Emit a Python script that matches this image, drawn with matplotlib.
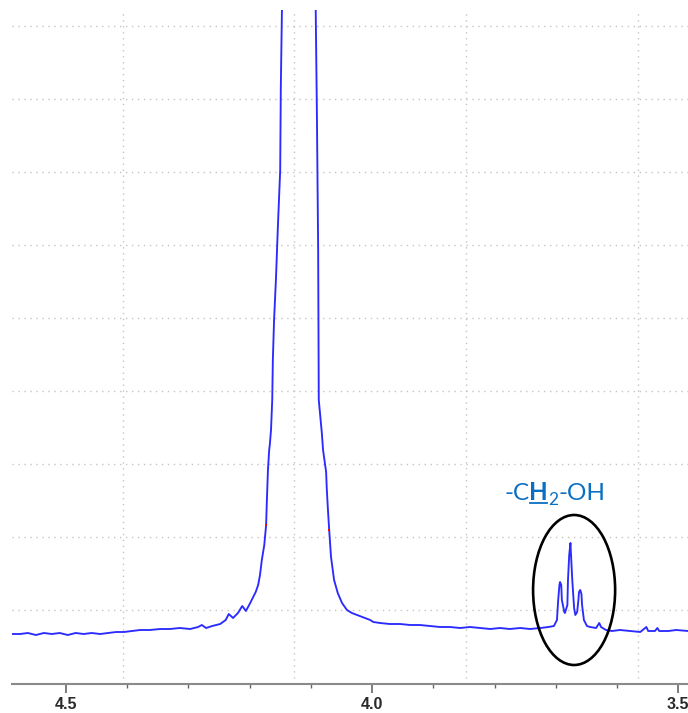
import matplotlib.pyplot as plt
from matplotlib.patches import Ellipse
from matplotlib.ticker import MultipleLocator
from matplotlib.transforms import IdentityTransform
from matplotlib.lines import Line2D

# 1H NMR trace: chemical shift (ppm) and intensity (a.u.)
ppm = [4.588, 4.575, 4.562, 4.549, 4.536, 4.523, 4.510, 4.497, 4.484, 4.471,
       4.458, 4.444, 4.431, 4.418, 4.405, 4.392, 4.379, 4.363, 4.346, 4.330,
       4.314, 4.297, 4.284, 4.278, 4.271, 4.261, 4.248, 4.239, 4.234, 4.227,
       4.219, 4.212, 4.206, 4.199, 4.194, 4.190, 4.186, 4.183, 4.180, 4.176,
       4.173, 4.172, 4.170, 4.168, 4.167, 4.165, 4.163, 4.162, 4.160, 4.157,
       4.154, 4.152, 4.150, 4.149, 4.147, 4.121, 4.092, 4.090, 4.088, 4.087,
       4.082, 4.080, 4.075, 4.074, 4.072, 4.070, 4.067, 4.062, 4.056, 4.049,
       4.041, 4.033, 4.016, 4.003, 3.998, 3.987, 3.971, 3.954, 3.938, 3.922,
       3.905, 3.889, 3.873, 3.856, 3.840, 3.824, 3.807, 3.791, 3.775, 3.758,
       3.742, 3.725, 3.712, 3.703, 3.698, 3.696, 3.694, 3.693, 3.691, 3.690,
       3.686, 3.685, 3.681, 3.680, 3.678, 3.676, 3.675, 3.673, 3.670, 3.668,
       3.665, 3.663, 3.662, 3.660, 3.658, 3.657, 3.654, 3.649, 3.644, 3.634,
       3.629, 3.626, 3.618, 3.608, 3.595, 3.578, 3.562, 3.552, 3.549, 3.538,
       3.534, 3.531, 3.516, 3.503, 3.484]
intensity = [0, 0, 1, -1, 1, 0, 1, -1, 1, 0,
             1, 0, 1, 2, 2, 3, 4, 4, 5, 5,
             6, 5, 7, 9, 6, 8, 10, 14, 20, 16,
             21, 28, 23, 31, 37, 42, 49, 59, 74, 89,
             109, 129, 164, 184, 189, 204, 234, 274, 314, 354,
             404, 434, 464, 546, 624, 3400, 624, 517, 384, 234,
             201, 184, 162, 146, 124, 104, 77, 54, 41, 31,
             24, 21, 17, 14, 12, 11, 10, 10, 9, 9,
             8, 7, 7, 6, 7, 6, 5, 6, 5, 6,
             5, 6, 7, 8, 14, 34, 49, 52, 49, 34,
             22, 21, 29, 54, 79, 91, 79, 54, 26, 19,
             22, 34, 42, 44, 40, 29, 14, 8, 7, 6,
             11, 7, 4, 3, 4, 3, 2, 7, 3, 3,
             6, 3, 3, 4, 3]

# integration limit markers
limit_ppm = [4.173, 4.070]
limit_int = [109, 104]

# dotted grid positions
grid_ppm = [4.407, 4.127, 3.846, 3.565]
grid_int = [24, 97, 170, 243, 316, 389, 462, 535, 608]

major_ticks = [4.5, 4.0, 3.5]
tick_labels = ["4.5", "4.0", "3.5"]

# CH2-OH triplet
triplet_ppm = 3.670
triplet_int = 44

label_color = "#0a6fc2"

fig = plt.figure(figsize=(6.88, 7.13), dpi=100)
ax = fig.add_axes([12 / 688, 29 / 713, 676 / 688, 674 / 713])

for g in grid_ppm:
    ax.axvline(g, color="#c4c4c4", lw=1.0, ls=(0, (1, 3.3)), zorder=0)
for g in grid_int:
    ax.axhline(g, color="#c4c4c4", lw=1.0, ls=(0, (1, 3.3)), zorder=0)

ax.plot(ppm, intensity, color="#2b2bff", lw=1.35, zorder=2)
ax.plot(limit_ppm, limit_int, "s", color="red", ms=2.0, mew=0, zorder=3)

ax.add_patch(Ellipse((triplet_ppm, triplet_int), width=0.134, height=150,
                     fill=False, ec="black", lw=1.9, zorder=4))

ax.set_xlim(4.588, 3.484)
ax.set_ylim(-50, 624)

for side in ["left", "top", "right"]:
    ax.spines[side].set_visible(False)
ax.spines["bottom"].set_color("#8a8a8a")
ax.spines["bottom"].set_linewidth(1.5)

ax.set_yticks([])
ax.set_xticks(major_ticks)
ax.set_xticklabels(tick_labels, fontweight="bold", fontsize=11.5,
                   color="#2a2a2a", family="Liberation Sans")
ax.xaxis.set_minor_locator(MultipleLocator(0.1))
ax.tick_params(axis="x", which="major", length=6.5, width=1.2,
               color="#666666", pad=3)
ax.tick_params(axis="x", which="minor", length=3.2, width=1.0,
               color="#666666")

# label "-CH2-OH" with bold, underlined H and subscript 2
fig.canvas.draw()
renderer = fig.canvas.get_renderer()
x, y = ax.transData.transform((3.784, 134))
pieces = [("-C", "normal", 17.5, 0), ("H", "bold", 17.5, 0),
          ("2", "normal", 12.5, -5), ("-OH", "normal", 17.5, 0)]
for text, weight, size, dy in pieces:
    t = fig.text(x, y + dy, text, transform=IdentityTransform(),
                 color=label_color, fontsize=size, fontweight=weight,
                 family="Lato", ha="left", va="baseline")
    bb = t.get_window_extent(renderer)
    if text == "H":
        fig.add_artist(Line2D([bb.x0 + 1, bb.x1 - 1], [y - 3, y - 3],
                              transform=IdentityTransform(),
                              color=label_color, lw=1.3))
    x = bb.x1

fig.savefig("out.png", dpi=100)
